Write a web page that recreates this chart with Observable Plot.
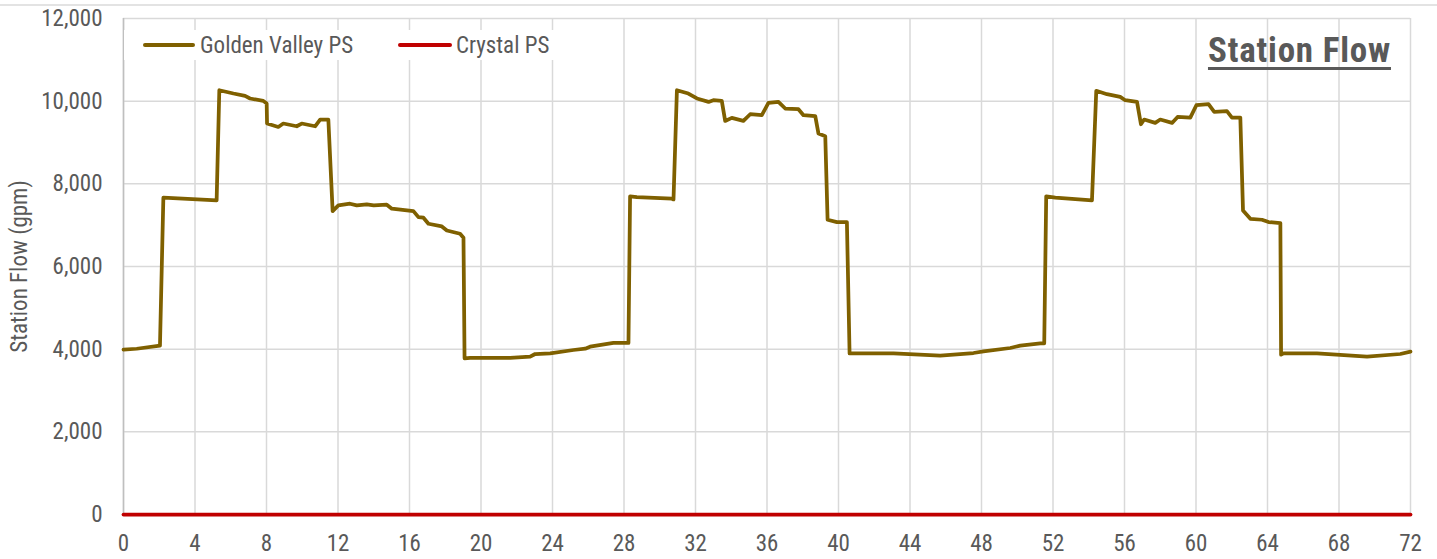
<!DOCTYPE html>
<html>
<head>
<meta charset="utf-8">
<script src="https://cdn.jsdelivr.net/npm/d3@7"></script>
<script src="https://cdn.jsdelivr.net/npm/@observablehq/plot@0.6"></script>
<style>
  body { margin: 0; background: #fff; }
  #wrap { position: relative; width: 1437px; height: 559px; overflow: hidden;
    font-family: "Roboto Condensed", "Liberation Sans Narrow", "DejaVu Sans Condensed", sans-serif;
    color: #595959; }
  #topline { position: absolute; left: 0; top: 4px; width: 1437px; height: 2px; background: #e3e3e3; }
  #legend { position: absolute; left: 124px; top: 30px; width: 432px; height: 30px; background: #fff; }
  .sw { position: absolute; height: 4px; top: 13px; border-radius: 2px; }
  .lt { position: absolute; top: 4px; font-size: 23px; line-height: 23px; white-space: nowrap; color: #595959; }
  #title { position: absolute; right: 46px; top: 33px; font-size: 35px; line-height: 35px; font-weight: bold;
    letter-spacing: 0.8px;
    color: #595959; text-decoration: underline; text-decoration-thickness: 3px; text-underline-offset: 5px; white-space: nowrap; }
  #ytitle { position: absolute; left: -131px; top: 254.5px; width: 300px; height: 23px; line-height: 23px;
    font-size: 23px; text-align: center; transform: rotate(-90deg); transform-origin: 50% 50%; white-space: nowrap; }
</style>
</head>
<body>
<div id="wrap">
  <div id="topline"></div>
</div>
<script>
// ---- data ----
const seriesNames = ["Golden Valley PS", "Crystal PS"];
const seriesColors = ["#7F6000", "#C00000"];
const xTicks = [0, 4, 8, 12, 16, 20, 24, 28, 32, 36, 40, 44, 48, 52, 56, 60, 64, 68, 72];
const yTicks = [0, 2000, 4000, 6000, 8000, 10000, 12000];

const goldenHours = [0, 0.74, 2.04, 2.23, 5.21, 5.36, 6.15, 6.8, 7.08, 7.82, 8.01, 8.03, 8.66, 8.94, 9.69, 9.97,
  10.72, 11.0, 11.46, 11.7, 12.02, 12.67, 13.05, 13.61, 14.0, 14.73, 15.01, 16.22, 16.5, 16.78, 17.06, 17.81,
  18.09, 18.83, 19.02, 19.08, 19.39, 21.63, 22.75, 23.03, 23.87, 25.17, 25.83, 26.1, 27.41, 28.25, 28.34, 28.72,
  30.68, 30.77, 30.96, 31.6, 32.08, 32.73, 33.0, 33.47, 33.66, 34.03, 34.68, 35.06, 35.71, 36.08, 36.64, 37.02,
  37.76, 38.04, 38.7, 38.88, 39.26, 39.39, 39.91, 40.47, 40.62, 43.08, 45.69, 47.55, 48.11, 49.61, 50.17, 51.29,
  51.51, 51.62, 52.13, 54.18, 54.42, 55.02, 55.76, 56.04, 56.7, 56.92, 57.1, 57.72, 58.0, 58.66, 58.97, 59.68,
  60.02, 60.7, 61.02, 61.73, 62.01, 62.48, 62.63, 63.04, 63.69, 64.06, 64.72, 64.76, 64.9, 66.77, 69.57, 71.43, 72];
const goldenFlow = [3990, 4010, 4085, 7665, 7600, 10265, 10185, 10128, 10065, 10007, 9943, 9459, 9376, 9459, 9393, 9459,
  9393, 9555, 9555, 7340, 7478, 7519, 7478, 7502, 7478, 7495, 7398, 7340, 7195, 7180, 7034, 6969,
  6872, 6792, 6695, 3780, 3790, 3790, 3818, 3883, 3898, 3980, 4012, 4060, 4150, 4150, 7696, 7680,
  7640, 7623, 10265, 10185, 10065, 9982, 10023, 10007, 9522, 9595, 9522, 9684, 9660, 9958, 9982, 9822,
  9805, 9660, 9636, 9216, 9151, 7131, 7074, 7074, 3898, 3898, 3842, 3907, 3947, 4028, 4085, 4141,
  4141, 7696, 7665, 7600, 10250, 10169, 10104, 10023, 9982, 9442, 9555, 9474, 9555, 9474, 9619, 9603,
  9902, 9927, 9740, 9757, 9603, 9603, 7357, 7155, 7131, 7074, 7050, 3866, 3898, 3898, 3818, 3883, 3940];

const crystalHours = [0, 72];
const crystalFlow = [0, 0];

// ---- table ----
const rows = [
  ...goldenHours.map((h, i) => ({hour: h, flow: goldenFlow[i], series: seriesNames[0]})),
  ...crystalHours.map((h, i) => ({hour: h, flow: crystalFlow[i], series: seriesNames[1]}))
];

const fontFam = '"Roboto Condensed", "Liberation Sans Narrow", "DejaVu Sans Condensed", sans-serif';

const chart = Plot.plot({
  width: 1437,
  height: 559,
  marginLeft: 123,
  marginRight: 27,
  marginTop: 18,
  marginBottom: 45,
  style: {fontFamily: fontFam, fontSize: "23px", color: "#595959", background: "transparent"},
  x: {domain: [xTicks[0], xTicks[xTicks.length - 1]]},
  y: {domain: [yTicks[0], yTicks[yTicks.length - 1]]},
  color: {domain: seriesNames, range: seriesColors},
  marks: [
    Plot.gridX(xTicks, {stroke: "#d9d9d9", strokeOpacity: 1, strokeWidth: 1.5}),
    Plot.gridY(yTicks, {stroke: "#d9d9d9", strokeOpacity: 1, strokeWidth: 1.5}),
    Plot.ruleX([xTicks[0]], {stroke: "#bfbfbf", strokeWidth: 1.5}),
    Plot.axisX(xTicks, {tickSize: 0, tickPadding: 20, fontSize: 23, label: null, tickFormat: d => String(d)}),
    Plot.axisY(yTicks, {tickSize: 0, tickPadding: 21, fontSize: 23, label: null, tickFormat: d3.format(",")}),
    Plot.line(rows, {x: "hour", y: "flow", z: "series", stroke: "series", strokeWidth: 3.75,
      strokeLinejoin: "round", strokeLinecap: "round"})
  ]
});

const wrap = document.getElementById("wrap");
chart.style.position = "absolute";
chart.style.left = "0px";
chart.style.top = "0px";
wrap.appendChild(chart);

// legend (HTML overlay)
const legend = document.createElement("div");
legend.id = "legend";
const swLeft = [19, 274];
const txtLeft = [76, 332];
const swWidth = [52, 54];
seriesNames.forEach((name, i) => {
  const sw = document.createElement("div");
  sw.className = "sw";
  sw.style.left = swLeft[i] + "px";
  sw.style.width = swWidth[i] + "px";
  sw.style.background = seriesColors[i];
  legend.appendChild(sw);
  const t = document.createElement("div");
  t.className = "lt";
  t.style.left = txtLeft[i] + "px";
  t.textContent = name;
  legend.appendChild(t);
});
wrap.appendChild(legend);

const title = document.createElement("div");
title.id = "title";
title.textContent = "Station Flow";
wrap.appendChild(title);

const yt = document.createElement("div");
yt.id = "ytitle";
yt.textContent = "Station Flow (gpm)";
wrap.appendChild(yt);
</script>
</body>
</html>
